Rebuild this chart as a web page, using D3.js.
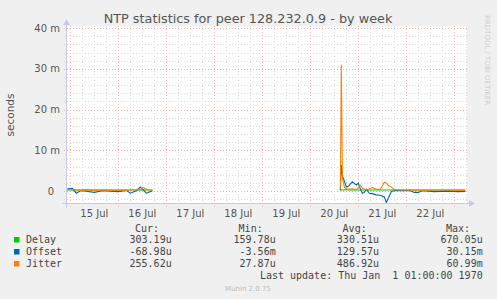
<!DOCTYPE html>
<html>
<head>
<meta charset="utf-8">
<script src="https://cdn.jsdelivr.net/npm/d3@7"></script>
<style>
  body { margin: 0; background: #f0f0f0; }
  svg { display: block; font-family: "DejaVu Sans", sans-serif; }
</style>
</head>
<body>
<svg id="chart" width="497" height="299"></svg>
<script>
// window shown by the graph (UTC, year is irrelevant)
const windowStart = '07-14 22:20';
const windowEnd = '07-23 06:20';

// first stretch of samples (values in milliseconds)
const times1  = ['07-14 22:30', '07-15 01:00', '07-15 03:00', '07-15 05:00', '07-15 08:00', '07-15 12:00',
                 '07-15 16:00', '07-15 20:00', '07-16 00:00', '07-16 04:00', '07-16 06:00', '07-16 09:00',
                 '07-16 11:00', '07-16 12:30', '07-16 14:00', '07-16 15:30', '07-16 17:00'];
const delay1  = [0.3, 0.3, 0.3, 0.3, 0.35, 0.3, 0.3, 0.3, 0.3, 0.3, 0.3, 0.3, 0.35, 0.3, 0.3, 0.3, 0.3];
const offset1 = [0.6, 0.7, -0.5, 0.1, 0.0, -0.3, 0.1, 0.0, -0.1, 0.2, -0.5, 0.1, 1.0, 0.3, -0.5, -0.2, 0.1];
const jitter1 = [0.3, 0.4, 0.3, 0.2, 0.3, 0.2, 0.3, 0.2, 0.3, 0.2, 0.3, 0.3, 0.4, 0.9, 0.5, 0.3, 0.2];

// second stretch, after the gap
const times2  = ['07-20 15:00', '07-20 15:30', '07-20 16:00', '07-20 17:00', '07-20 18:00', '07-20 19:00',
                 '07-20 21:00', '07-20 23:00', '07-21 00:00', '07-21 01:00', '07-21 02:00', '07-21 03:00',
                 '07-21 04:00', '07-21 05:30', '07-21 07:00', '07-21 09:00', '07-21 11:00', '07-21 13:00',
                 '07-21 14:00', '07-21 15:00', '07-21 16:30', '07-21 18:00', '07-21 21:00', '07-22 02:00',
                 '07-22 04:00', '07-22 06:00', '07-22 08:00', '07-22 14:00', '07-22 20:00', '07-23 02:00',
                 '07-23 05:30'];
const delay2  = [0.3, 0.3, 0.3, 0.3, 0.4, 0.3, 0.3, 0.3, 0.3, 0.3, 0.3, 0.3, 0.3, 0.3, 0.3, 0.3,
                 0.3, 0.3, 0.3, 0.3, 0.3, 0.3, 0.3, 0.3, 0.3, 0.3, 0.3, 0.3, 0.3, 0.3, 0.3];
const offset2 = [0.2, 6.4, 3.8, 2.5, 1.0, 1.2, 2.3, 1.5, 2.0, 0.6, -0.5, -0.3, 0.5, -0.5, -0.6, -0.9,
                 -1.0, -1.4, -2.8, -1.7, -0.1, 0.1, 0.1, 0.1, -0.3, -0.3, 0.1, -0.1, 0.0, -0.1, -0.05];
const jitter2 = [0.5, 31.0, 3.5, 1.0, 0.6, 0.5, 0.6, 0.4, 0.9, 1.5, 0.8, 0.5, 0.3, 0.6, 0.9, 0.5,
                 0.4, 2.2, 2.0, 1.4, 1.0, 0.4, 0.3, 0.3, 0.2, 0.3, 0.2, 0.3, 0.3, 0.2, 0.25];

// y axis, in milliseconds
const yDomain = [-2.9, 40.5];
const yMajorTicks = [0, 10, 20, 30, 40];

// legend
const seriesNames  = ['Delay', 'Offset', 'Jitter'];
const seriesColors = ['#00cc00', '#0066b3', '#ff8000'];
const curVals = ['303.19u', '-68.98u', '255.62u'];
const minVals = ['159.78u', '-3.56m', '27.87u'];
const avgVals = ['330.51u', '129.57u', '486.92u'];
const maxVals = ['670.05u', '30.15m', '60.99m'];

const parse = d3.utcParse('%m-%d %H:%M');
const svg = d3.select('#chart');

const plot = {left: 67, right: 467, top: 26, bottom: 203};

const x = d3.scaleUtc()
  .domain([parse(windowStart), parse(windowEnd)])
  .range([plot.left, plot.right]);
const y = d3.scaleLinear().domain(yDomain).range([plot.bottom, plot.top]);

// plot background
svg.append('rect')
  .attr('x', plot.left).attr('y', plot.top)
  .attr('width', plot.right - plot.left).attr('height', plot.bottom - plot.top)
  .attr('fill', '#fff');

// grid: minor first, then major on top
const [t0, t1] = x.domain();
const minorX = d3.utcHour.every(6).range(t0, t1);
const majorX = d3.utcDay.range(t0, t1);
const minorY = d3.range(-2, 41, 2).filter(v => v % 10 !== 0);

const grid = svg.append('g').attr('shape-rendering', 'crispEdges');
grid.selectAll('.vminor').data(minorX).enter().append('line')
  .attr('x1', d => Math.round(x(d)) + 0.5).attr('x2', d => Math.round(x(d)) + 0.5)
  .attr('y1', plot.top).attr('y2', plot.bottom + 3)
  .attr('stroke', '#dadada').attr('stroke-dasharray', '1,2');
grid.selectAll('.hminor').data(minorY).enter().append('line')
  .attr('x1', plot.left - 3).attr('x2', plot.right)
  .attr('y1', d => Math.round(y(d)) + 0.5).attr('y2', d => Math.round(y(d)) + 0.5)
  .attr('stroke', '#dadada').attr('stroke-dasharray', '1,2');
grid.selectAll('.vmajor').data(majorX).enter().append('line')
  .attr('x1', d => Math.round(x(d)) + 0.5).attr('x2', d => Math.round(x(d)) + 0.5)
  .attr('y1', plot.top).attr('y2', plot.bottom + 4)
  .attr('stroke', '#f2b0b0').attr('stroke-dasharray', '1,2');
grid.selectAll('.hmajor').data(yMajorTicks).enter().append('line')
  .attr('x1', plot.left - 3).attr('x2', plot.right)
  .attr('y1', d => Math.round(y(d)) + 0.5).attr('y2', d => Math.round(y(d)) + 0.5)
  .attr('stroke', '#f2b0b0').attr('stroke-dasharray', '1,2');

// y tick labels
svg.append('g').selectAll('text').data(yMajorTicks).enter().append('text')
  .attr('x', 60).attr('y', d => y(d) + 3.5)
  .attr('dx', d => d === 0 ? -6 : 0)
  .attr('text-anchor', 'end')
  .attr('font-size', 10).attr('fill', '#555')
  .text(d => d === 0 ? '0' : d + ' m');

// x labels at noon of each day
const labelDays = majorX.map(d => d3.utcHour.offset(d, 12)).filter(d => d > t0 && d < t1);
svg.append('g').selectAll('text').data(labelDays).enter().append('text')
  .attr('x', d => x(d)).attr('y', 216.5)
  .attr('text-anchor', 'middle')
  .attr('font-size', 10).attr('fill', '#555')
  .text(d3.utcFormat('%d %b'));

// series
const series = [
  {t: times1, vals: [delay1, offset1, jitter1]},
  {t: times2, vals: [delay2, offset2, jitter2]}
];
const line = d3.line().x(d => x(d[0])).y(d => y(d[1]));
seriesNames.forEach((name, i) => {
  series.forEach(seg => {
    const pts = seg.t.map((t, k) => [parse(t), seg.vals[i][k]]);
    svg.append('path')
      .datum(pts)
      .attr('d', line)
      .attr('fill', 'none')
      .attr('stroke', seriesColors[i])
      .attr('stroke-width', 1.1);
  });
});

// axes with arrows
const axisColor = '#c8c8f0';
svg.append('line')
  .attr('x1', plot.left - 5).attr('x2', plot.right + 3)
  .attr('y1', plot.bottom + 0.5).attr('y2', plot.bottom + 0.5)
  .attr('stroke', axisColor);
svg.append('path')
  .attr('d', `M${plot.right + 2},${plot.bottom - 3}L${plot.right + 8},${plot.bottom + 0.5}L${plot.right + 2},${plot.bottom + 4}Z`)
  .attr('fill', axisColor);
svg.append('line')
  .attr('x1', plot.left - 0.5).attr('x2', plot.left - 0.5)
  .attr('y1', plot.bottom + 5).attr('y2', plot.top - 2)
  .attr('stroke', axisColor);
svg.append('path')
  .attr('d', `M${plot.left - 4},${plot.top - 1}L${plot.left - 0.5},${plot.top - 7}L${plot.left + 3},${plot.top - 1}Z`)
  .attr('fill', axisColor);

// title and axis label
svg.append('text')
  .attr('x', 248).attr('y', 22.5)
  .attr('text-anchor', 'middle')
  .attr('font-size', 12.8).attr('fill', '#555')
  .text('NTP statistics for peer 128.232.0.9 - by week');

svg.append('text')
  .attr('transform', 'translate(14,115) rotate(-90)')
  .attr('text-anchor', 'middle')
  .attr('font-size', 10.5).attr('fill', '#555')
  .text('seconds');

svg.append('text')
  .attr('transform', 'translate(485,15) rotate(90)')
  .attr('font-size', 7).attr('fill', '#cfcfcf')
  .text('RRDTOOL / TOBI OETIKER');

// legend
const mono = '"DejaVu Sans Mono", monospace';
const legend = svg.append('g').attr('font-family', mono).attr('font-size', 10).attr('fill', '#444');
const headers = [['Cur:', 159], ['Min:', 262.7], ['Avg:', 366.7], ['Max:', 470]];
legend.selectAll('.hdr').data(headers).enter().append('text')
  .attr('x', d => d[1]).attr('y', 231.8).attr('text-anchor', 'end').text(d => d[0]);

const colEnds = [171.7, 275.7, 379, 482.7];
seriesNames.forEach((name, i) => {
  const rowY = 239.7 + i * 12;
  legend.append('rect')
    .attr('x', 14).attr('y', rowY - 2.7).attr('width', 5.5).attr('height', 5.5)
    .attr('fill', seriesColors[i]);
  legend.append('text').attr('x', 26).attr('y', rowY + 3.5).text(name);
  [curVals, minVals, avgVals, maxVals].forEach((col, c) => {
    legend.append('text')
      .attr('x', colEnds[c]).attr('y', rowY + 3.5)
      .attr('text-anchor', 'end')
      .text(col[i]);
  });
});
legend.append('text')
  .attr('x', 482.7).attr('y', 279.2).attr('text-anchor', 'end')
  .style('white-space', 'pre')
  .text('Last update: Thu Jan  1 01:00:00 1970');

svg.append('text')
  .attr('x', 248).attr('y', 290.5)
  .attr('text-anchor', 'middle')
  .attr('font-size', 7).attr('fill', '#bbb')
  .text('Munin 2.0.75');
</script>
</body>
</html>
